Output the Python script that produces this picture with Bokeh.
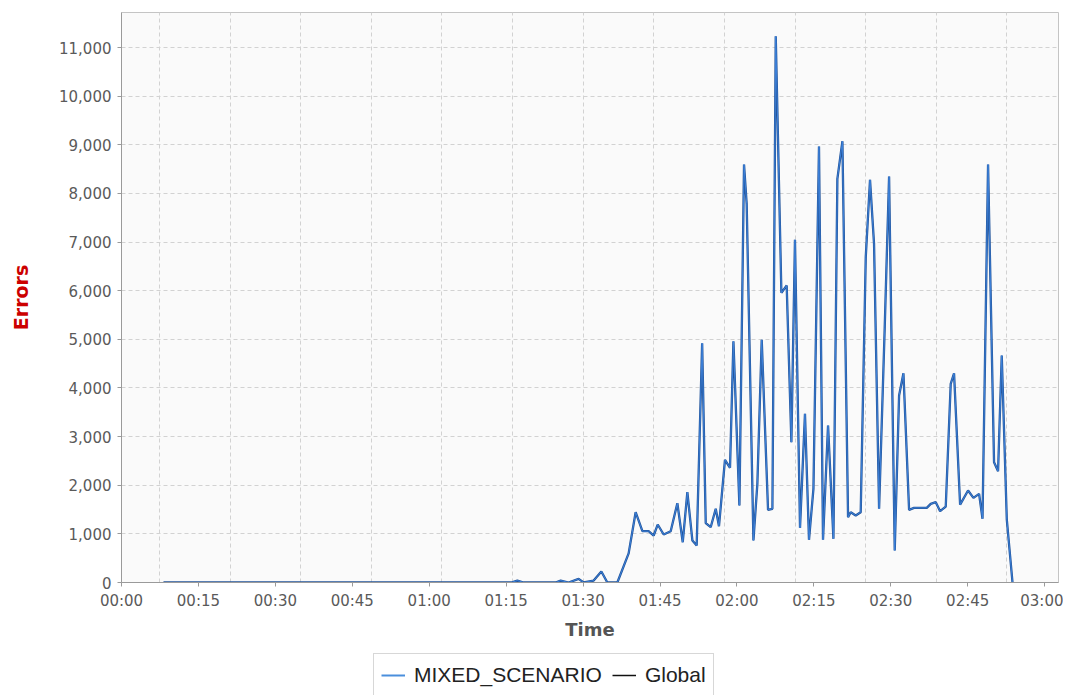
import pandas as pd
from bokeh.plotting import figure
from bokeh.layouts import column
from bokeh.models import (ColumnDataSource, FixedTicker, Legend, LegendItem,
                          NumeralTickFormatter, DatetimeTickFormatter, Range1d)
from bokeh.embed import file_html
from bokeh.resources import INLINE

# ---- data ----
times = [
    "00:08:11", "01:16:00", "01:17:11", "01:18:24", "01:24:39", "01:25:38", "01:27:11",
    "01:29:08", "01:30:07", "01:32:04", "01:33:34", "01:34:44", "01:36:41", "01:38:53",
    "01:40:15", "01:41:34", "01:42:47", "01:43:46", "01:44:33", "01:45:43", "01:47:05",
    "01:48:23", "01:49:26", "01:50:20", "01:51:19", "01:52:09", "01:53:13", "01:53:55",
    "01:54:53", "01:55:52", "01:56:30", "01:57:40", "01:58:39", "01:59:19", "02:00:29",
    "02:01:23", "02:01:54", "02:03:13", "02:03:59", "02:04:50", "02:06:04", "02:06:55",
    "02:07:34", "02:08:40", "02:09:42", "02:10:37", "02:11:19", "02:12:18", "02:13:16",
    "02:14:03", "02:14:55", "02:16:00", "02:16:47", "02:17:46", "02:18:49", "02:19:35",
    "02:20:34", "02:21:40", "02:22:11", "02:23:10", "02:24:08", "02:25:07", "02:25:57",
    "02:26:44", "02:27:43", "02:28:49", "02:29:40", "02:30:46", "02:31:37", "02:32:28",
    "02:33:34", "02:34:32", "02:37:01", "02:37:47", "02:38:46", "02:39:37", "02:40:43",
    "02:41:41", "02:42:20", "02:43:31", "02:45:04", "02:46:07", "02:47:13", "02:47:53",
    "02:48:58", "02:50:08", "02:50:55", "02:51:38", "02:52:37", "02:53:44",
]
errors = [
    0, 0, 40, 0, 0, 40, 0,
    75, 0, 40, 225, 0, 0, 600,
    1445, 1055, 1055, 966, 1192, 987, 1055,
    1630, 828, 1857, 863, 760, 4920, 1220,
    1137, 1515, 1158, 2522, 2358, 4961, 1583,
    8594, 7786, 863, 2029, 4989, 1494, 1515,
    11230, 5956, 6106, 2885, 7046, 1124, 3468,
    878, 1926, 8964, 878, 3228, 898, 8300,
    9073, 1343, 1446, 1377, 1446, 6689, 8280,
    6964, 1515, 5249, 8347, 658, 3845, 4303,
    1494, 1535, 1535, 1617, 1651, 1466, 1562,
    4085, 4303, 1600, 1891, 1741, 1823, 1309,
    8594, 2474, 2289, 4667, 1300, 0,
]
series_names = ["MIXED_SCENARIO", "Global"]
x_tick_labels = ["00:00", "00:15", "00:30", "00:45", "01:00", "01:15", "01:30",
                 "01:45", "02:00", "02:15", "02:30", "02:45", "03:00"]
y_ticks = [0, 1000, 2000, 3000, 4000, 5000, 6000, 7000, 8000, 9000, 10000, 11000]

# ---- build ----
base = "2000-01-01 "
epoch = pd.Timestamp("1970-01-01")
ts = pd.to_datetime([base + t for t in times])
src = ColumnDataSource(dict(time=ts, errors=errors))


def ms(ts_):
    return (ts_ - epoch).total_seconds() * 1000.0


x0 = pd.Timestamp(base + "00:00:00")
x1 = x0 + pd.Timedelta(minutes=182.7)
xticks = [ms(pd.Timestamp(base + lab + ":00")) for lab in x_tick_labels]
xgrid_ticks = [ms(x0 + pd.Timedelta(minutes=7.4 + 13.77 * k)) for k in range(14)]

FONT = "DejaVu Sans"
BLUE = "#3f86e0"
UNDER = "#22549a"

p = figure(width=1063, height=642, x_axis_type="datetime",
           x_range=Range1d(ms(x0), ms(x1)), y_range=Range1d(0, 11720),
           output_backend="svg", toolbar_location=None,
           min_border_left=121, min_border_right=5, min_border_top=12,
           min_border_bottom=60)

p.background_fill_color = "#fafafa"
p.border_fill_color = "white"
p.outline_line_color = "#c4c4c4"

# "Global" drawn underneath, MIXED_SCENARIO on top (same values)
p.line("time", "errors", source=src, line_color=UNDER, line_width=2.3)
p.line("time", "errors", source=src, line_color=BLUE, line_width=0.9)

# axes
p.xaxis.ticker = FixedTicker(ticks=xticks)
p.xaxis.formatter = DatetimeTickFormatter(
    milliseconds="%H:%M", seconds="%H:%M", minsec="%H:%M", minutes="%H:%M",
    hourmin="%H:%M", hours="%H:%M", days="%H:%M", months="%H:%M", years="%H:%M")
p.yaxis.ticker = FixedTicker(ticks=y_ticks)
p.yaxis.formatter = NumeralTickFormatter(format="0,0")

for ax in (p.xaxis[0], p.yaxis[0]):
    ax.axis_line_color = "#9a9a9a"
    ax.major_tick_line_color = "#9a9a9a"
    ax.major_tick_out = 4
    ax.major_tick_in = 0
    ax.minor_tick_line_color = None
    ax.major_label_text_font = FONT
    ax.major_label_text_font_size = "15px"
    ax.major_label_text_color = "#5a5a5a"
    ax.axis_label_text_font = FONT
    ax.axis_label_text_font_size = "18px"
    ax.axis_label_text_font_style = "bold"

p.xaxis.major_label_standoff = 5
p.yaxis.major_label_standoff = 6
p.xaxis.axis_label = "Time"
p.xaxis.axis_label_text_color = "#555555"
p.xaxis.axis_label_standoff = 6
p.yaxis.axis_label = "Errors"
p.yaxis.axis_label_text_color = "#cc0000"
p.yaxis.axis_label_text_font_size = "19px"
p.yaxis.axis_label_standoff = 24

# grids
p.xgrid.ticker = FixedTicker(ticks=xgrid_ticks)
p.ygrid.ticker = FixedTicker(ticks=y_ticks)
for gr in (p.xgrid[0], p.ygrid[0]):
    gr.grid_line_color = "#d2d2d2"
    gr.grid_line_dash = "4 3"
    gr.grid_line_width = 1

# legend strip below the chart (its frame is aligned with the chart's frame)
lg = figure(width=1063, height=53, x_range=Range1d(0, 1), y_range=Range1d(0, 1),
            output_backend="svg", toolbar_location=None,
            min_border_left=121, min_border_right=5, min_border_top=0, min_border_bottom=0)
lg.axis.visible = False
lg.grid.visible = False
lg.outline_line_color = None
lg.background_fill_color = "white"
# legend swatches (kept outside the visible range)
lm = lg.line(x=[-5, -4], y=[-5, -5], line_color="#4a8fdc", line_width=2)
lgb = lg.line(x=[-5, -4], y=[-5, -5], line_color="#111111", line_width=1.5)

legend = Legend(
    items=[LegendItem(label=series_names[0], renderers=[lm]),
           LegendItem(label=series_names[1], renderers=[lgb])],
    orientation="horizontal", location=(252, -2),
    label_text_font="Liberation Sans", label_text_font_size="21px",
    label_text_color="#222222",
    glyph_width=24, glyph_height=28, label_height=28, label_standoff=9,
    spacing=10, padding=7, margin=0,
    border_line_color="#b0b0b0", border_line_width=1,
    background_fill_color="white", background_fill_alpha=1.0)
lg.add_layout(legend)

layout = column(p, lg, spacing=0)
open("out.html", "w").write(file_html(layout, INLINE))
